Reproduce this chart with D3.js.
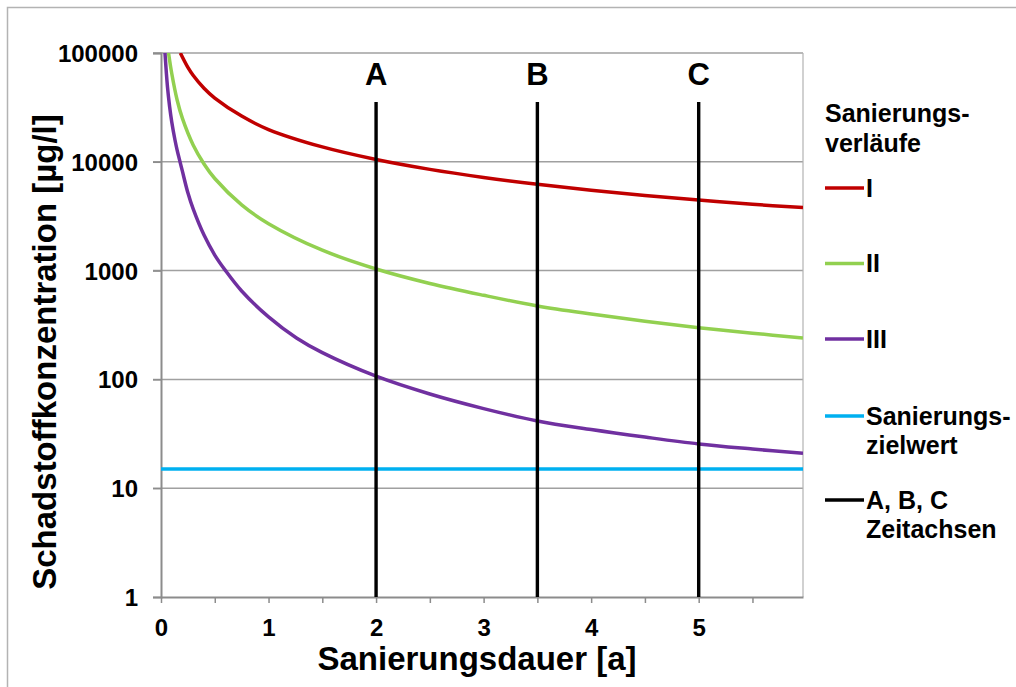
<!DOCTYPE html>
<html>
<head>
<meta charset="utf-8">
<script src="https://cdn.jsdelivr.net/npm/d3@7"></script>
<style>
  html, body { margin: 0; padding: 0; background: #fff; }
  svg text { font-family: "Liberation Sans", Arial, Helvetica, sans-serif; font-weight: bold; fill: #000; }
</style>
</head>
<body>
<svg id="chart" width="1016" height="687"></svg>
<script>
// ---- data ----
const seriesNames = ["I", "II", "III"];
const seriesColors = ["#C00000", "#92D050", "#7030A0"];

const timeI = [0.18, 0.25, 0.3, 0.4, 0.5, 0.75, 1, 1.5, 2, 2.5, 3, 3.5, 4, 4.5, 5, 5.5, 5.97];
const concI = [100000, 73700, 62100, 47400, 38500, 26300, 19800, 13700, 10500, 8520, 7180, 6210, 5480, 4910, 4450, 4070, 3800];

const timeII = [0.07, 0.1, 0.15, 0.2, 0.3, 0.4, 0.5, 0.75, 1, 1.5, 2, 2.5, 3, 3.5, 4, 4.5, 5, 5.5, 5.97];
const concII = [100000, 64800, 37000, 24900, 14200, 9560, 7020, 4020, 2700, 1540, 1035, 762, 593, 473, 399, 343, 299, 266, 240];

const timeIII = [0.037, 0.06, 0.08, 0.1, 0.13, 0.15, 0.177, 0.2, 0.25, 0.3, 0.4, 0.5, 0.6, 0.75, 1, 1.26, 1.5, 2, 2.5, 3, 3.5, 4, 4.5, 5, 5.5, 5.97];
const concIII = [100000, 49100, 32200, 23200, 15850, 12800, 10000, 8110, 5190, 3670, 2120, 1390, 1000, 650, 375, 240, 176, 107, 73.4, 53.9, 41.5, 34.6, 29.5, 25.5, 22.9, 20.9];

const targetValue = 15;              // Sanierungszielwert
const timeAxesT = [2, 3.5, 5];       // Zeitachsen
const timeAxesLabels = ["A", "B", "C"];

const xTicks = [0, 0.5, 1, 1.5, 2, 2.5, 3, 3.5, 4, 4.5, 5, 5.5];
const xTickLabels = ["0", "", "1", "", "2", "", "3", "", "4", "", "5", ""];
const yTicks = [1, 10, 100, 1000, 10000, 100000];
const yTickLabels = ["1", "10", "100", "1000", "10000", "100000"];

const xMax = 5.97;

// ---- chart ----
const svg = d3.select("#chart");
const L = 161, R = 803, T = 53, B = 597;

const x = d3.scaleLinear().domain([0, xMax]).range([L, R]);
const y = d3.scaleLog().domain([1, 100000]).range([B, T]);

// outer frame (left and top visible)
svg.append("rect").attr("x", 7.5).attr("y", 7.5).attr("width", 1100).attr("height", 800)
  .attr("fill", "none").attr("stroke", "#b3b3b3").attr("stroke-width", 1.5);

svg.append("defs").append("clipPath").attr("id", "plotclip")
  .append("rect").attr("x", L).attr("y", T).attr("width", R - L).attr("height", B - T);

// gridlines
svg.append("g").selectAll("line").data(yTicks.slice(1)).join("line")
  .attr("x1", L - 8).attr("x2", R)
  .attr("y1", d => y(d)).attr("y2", d => y(d))
  .attr("stroke", "#a0a0a0").attr("stroke-width", 1.5);

// right plot border
svg.append("line").attr("x1", R).attr("x2", R).attr("y1", T).attr("y2", B)
  .attr("stroke", "#b3b3b3").attr("stroke-width", 1.2);

// y axis
const yAxis = d3.axisLeft(y).tickValues(yTicks).tickFormat((d, i) => yTickLabels[i]).tickSize(8).tickPadding(15);
const gy = svg.append("g").attr("transform", `translate(${L},0)`).call(yAxis);
gy.select(".domain").attr("stroke", "#8c8c8c").attr("stroke-width", 2);
gy.selectAll(".tick line").attr("stroke", "#8c8c8c").attr("stroke-width", 1.5);
gy.selectAll(".tick text").attr("font-size", 24).attr("dy", "0.35em")
  .style("font-family", '"Liberation Sans", Arial, sans-serif').style("font-weight", "bold");

// x axis
const xAxis = d3.axisBottom(x).tickValues(xTicks).tickFormat((d, i) => xTickLabels[i]).tickSize(6).tickSizeOuter(0).tickPadding(16);
const gx = svg.append("g").attr("transform", `translate(0,${B})`).call(xAxis);
gx.select(".domain").attr("stroke", "#8c8c8c").attr("stroke-width", 2);
gx.selectAll(".tick line").attr("stroke", "#8c8c8c").attr("stroke-width", 1.5);
gx.selectAll(".tick text").attr("font-size", 24)
  .style("font-family", '"Liberation Sans", Arial, sans-serif').style("font-weight", "bold");

// target line
svg.append("line").attr("x1", x(0)).attr("x2", x(xMax))
  .attr("y1", y(targetValue)).attr("y2", y(targetValue))
  .attr("stroke", "#00B0F0").attr("stroke-width", 3.6);

// series
const line = d3.line().x(d => x(d[0])).y(d => y(d[1])).curve(d3.curveCatmullRom.alpha(0.5));
const seriesData = [
  d3.zip(timeI, concI),
  d3.zip(timeII, concII),
  d3.zip(timeIII, concIII)
];
const gs = svg.append("g").attr("clip-path", "url(#plotclip)");
seriesData.forEach((s, i) => {
  gs.append("path").datum(s).attr("d", line)
    .attr("fill", "none").attr("stroke", seriesColors[i]).attr("stroke-width", 3.5)
    .attr("stroke-linejoin", "round");
});

// time axes A, B, C
const vTop = 102;
timeAxesT.forEach((t, i) => {
  svg.append("line").attr("x1", x(t)).attr("x2", x(t)).attr("y1", vTop).attr("y2", B)
    .attr("stroke", "#000").attr("stroke-width", 3.4);
  svg.append("text").attr("x", x(t)).attr("y", 85).attr("text-anchor", "middle")
    .attr("font-size", 31).text(timeAxesLabels[i]);
});

// axis titles
svg.append("text").attr("x", 477).attr("y", 670).attr("text-anchor", "middle")
  .attr("font-size", 33).text("Sanierungsdauer [a]");
svg.append("text").attr("transform", "translate(56,352) rotate(-90)").attr("text-anchor", "middle")
  .attr("font-size", 33).text("Schadstoffkonzentration [µg/l]");

// legend
const lg = svg.append("g");
const legFs = 25;
lg.append("text").attr("x", 825).attr("y", 122).attr("font-size", legFs).text("Sanierungs-");
lg.append("text").attr("x", 825).attr("y", 151.5).attr("font-size", legFs).text("verläufe");

const legendRows = [
  { color: seriesColors[0], ly: 188, lines: [seriesNames[0]] },
  { color: seriesColors[1], ly: 263.5, lines: [seriesNames[1]] },
  { color: seriesColors[2], ly: 339, lines: [seriesNames[2]] },
  { color: "#00B0F0", ly: 416, lines: ["Sanierungs-", "zielwert"] },
  { color: "#000000", ly: 500, lines: ["A, B, C", "Zeitachsen"] }
];
legendRows.forEach(r => {
  lg.append("line").attr("x1", 825).attr("x2", 864).attr("y1", r.ly).attr("y2", r.ly)
    .attr("stroke", r.color).attr("stroke-width", 3.4);
  r.lines.forEach((txt, j) => {
    lg.append("text").attr("x", 866).attr("y", r.ly + 8.5 + j * 29.5)
      .attr("font-size", legFs).text(txt);
  });
});
</script>
</body>
</html>
